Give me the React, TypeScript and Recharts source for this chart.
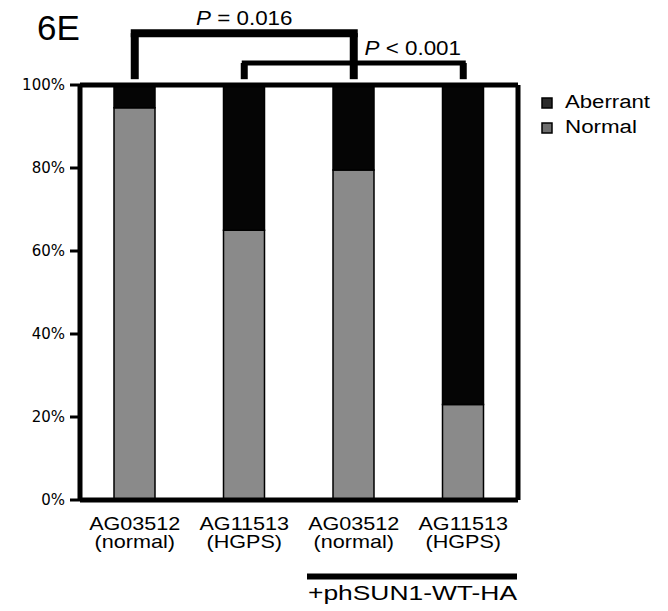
import React from 'react';
import { BarChart, Bar, XAxis, YAxis, ReferenceLine, Legend } from 'recharts';

const groups = ['ctrl-normal', 'ctrl-hgps', 'sun1-normal', 'sun1-hgps'];
const cellLines = ['AG03512', 'AG11513', 'AG03512', 'AG11513'];
const conditions = ['(normal)', '(HGPS)', '(normal)', '(HGPS)'];
const normalPct = [94.5, 65, 79.5, 23];
const aberrantPct = [5.5, 35, 20.5, 77];
const yTicks = [0, 20, 40, 60, 80, 100];
const legendNames = ['Aberrant', 'Normal'];
const treatmentLabel = '+phSUN1-WT-HA';
const panelLabel = '6E';

const comparisons = [
  { from: 'ctrl-normal', to: 'sun1-normal', text: ' = 0.016', level: 112.5, foot: 101.4, bar: 8, leg: 8, dx: 0, dy: -8 },
  { from: 'ctrl-hgps', to: 'sun1-hgps', text: ' < 0.001', level: 105.3, foot: 101.4, bar: 5, leg: 7, dx: 59, dy: -8 },
];

const data = groups.map((g, i) => ({
  group: g,
  normal: normalPct[i],
  aberrant: aberrantPct[i],
}));

const FONT = 'Liberation Sans, Arial, Helvetica, sans-serif';

const XTick = (props: any) => {
  const { x, y, payload } = props;
  const i = groups.indexOf(payload.value);
  return (
    <g transform={`translate(${x},${y})`}>
      <g transform="scale(1.2,1)">
        <text textAnchor="middle" fontFamily={FONT} fontSize={18} fill="#000">
          <tspan x={0} y={30}>{cellLines[i]}</tspan>
          <tspan x={0} y={48}>{conditions[i]}</tspan>
        </text>
      </g>
    </g>
  );
};

const PLabel = (props: any) => {
  const { viewBox, text, dx, dy } = props;
  if (!viewBox) return null;
  const cx = viewBox.x + viewBox.width / 2 + dx;
  const cy = viewBox.y + dy;
  return (
    <g transform={`translate(${cx},${cy})`}>
      <g transform="scale(1.12,1)">
        <text textAnchor="middle" fontFamily={FONT} fontSize={20} fill="#000">
          <tspan fontStyle="italic">P</tspan>
          <tspan>{text}</tspan>
        </text>
      </g>
    </g>
  );
};

const LegendContent = (props: any) => {
  const items = [
    { name: legendNames[0], fill: '#2a2a2a', len: 85 },
    { name: legendNames[1], fill: '#6e6e6e', len: 72 },
  ];
  return (
    <svg width={130} height={55}>
      {items.map((it, k) => (
        <g key={it.name} transform={`translate(0,${k * 25})`}>
          <rect x={2} y={8} width={10} height={10} fill={it.fill} stroke="#000" strokeWidth={1.5} />
          <text x={25} y={18} fontFamily={FONT} fontSize={18} fill="#000" textLength={it.len} lengthAdjust="spacingAndGlyphs">
            {it.name}
          </text>
        </g>
      ))}
    </svg>
  );
};

export default function App() {
  return (
    <div style={{ position: 'relative', width: 668, height: 611, background: '#fff' }}>
      <style>{`body{margin:0;background:#fff}`}</style>
      <BarChart
        width={668}
        height={611}
        data={data}
        margin={{ top: 85, right: 0, bottom: 0, left: 0 }}
        barSize={41}
      >
        <XAxis
          dataKey="group"
          height={111}
          axisLine={{ stroke: '#000', strokeWidth: 5 }}
          tickLine={false}
          tickSize={0}
          tickMargin={0}
          tick={<XTick />}
          interval={0}
        />
        <YAxis
          yAxisId="left"
          width={80}
          domain={[0, 100]}
          ticks={yTicks}
          tickFormatter={(v: number) => `${v}%`}
          axisLine={{ stroke: '#000', strokeWidth: 5 }}
          tickLine={{ stroke: '#000', strokeWidth: 3 }}
          tickSize={10}
          tickMargin={5}
          tick={{ fontFamily: 'DejaVu Sans, Verdana, sans-serif', fontSize: 15, fill: '#000' }}
          allowDataOverflow
        />
        <YAxis
          yAxisId="right"
          orientation="right"
          width={150}
          domain={[0, 100]}
          tick={false}
          tickLine={false}
          axisLine={{ stroke: '#000', strokeWidth: 5 }}
        />
        <Legend
          layout="vertical"
          align="center"
          verticalAlign="middle"
          content={<LegendContent />}
          wrapperStyle={{ position: 'absolute', left: 540, top: 90, width: 130 }}
        />
        <Bar yAxisId="left" dataKey="normal" name="Normal" stackId="a" fill="#8a8a8a" stroke="#000" strokeWidth={1.5} isAnimationActive={false} />
        <Bar yAxisId="left" dataKey="aberrant" name="Aberrant" stackId="a" fill="#050505" stroke="#000" strokeWidth={1.5} isAnimationActive={false} />
        <ReferenceLine yAxisId="left" y={100} stroke="#000" strokeWidth={5} ifOverflow="visible" />
        {comparisons.map((c) => (
          <ReferenceLine
            key={c.from + '-h'}
            yAxisId="left"
            ifOverflow="visible"
            segment={[{ x: c.from, y: c.level }, { x: c.to, y: c.level }]}
            stroke="#000"
            strokeWidth={c.bar}
            strokeLinecap="square"
            label={<PLabel text={c.text} dx={c.dx} dy={c.dy} />}
          />
        ))}
        {comparisons.map((c) => (
          <ReferenceLine
            key={c.from + '-l'}
            yAxisId="left"
            ifOverflow="visible"
            segment={[{ x: c.from, y: c.level }, { x: c.from, y: c.foot }]}
            stroke="#000"
            strokeWidth={c.leg}
          />
        ))}
        {comparisons.map((c) => (
          <ReferenceLine
            key={c.from + '-r'}
            yAxisId="left"
            ifOverflow="visible"
            segment={[{ x: c.to, y: c.level }, { x: c.to, y: c.foot }]}
            stroke="#000"
            strokeWidth={c.leg}
          />
        ))}
      </BarChart>
      <svg
        width={668}
        height={611}
        style={{ position: 'absolute', left: 0, top: 0, pointerEvents: 'none' }}
      >
        <text x={37} y={40} fontFamily={FONT} fontSize={35} fill="#000">{panelLabel}</text>
        <line x1={307} y1={576.5} x2={517} y2={576.5} stroke="#000" strokeWidth={6} />
        <text x={308} y={600} fontFamily={FONT} fontSize={20.5} fill="#000" textLength={209} lengthAdjust="spacingAndGlyphs">
          {treatmentLabel}
        </text>
      </svg>
    </div>
  );
}
